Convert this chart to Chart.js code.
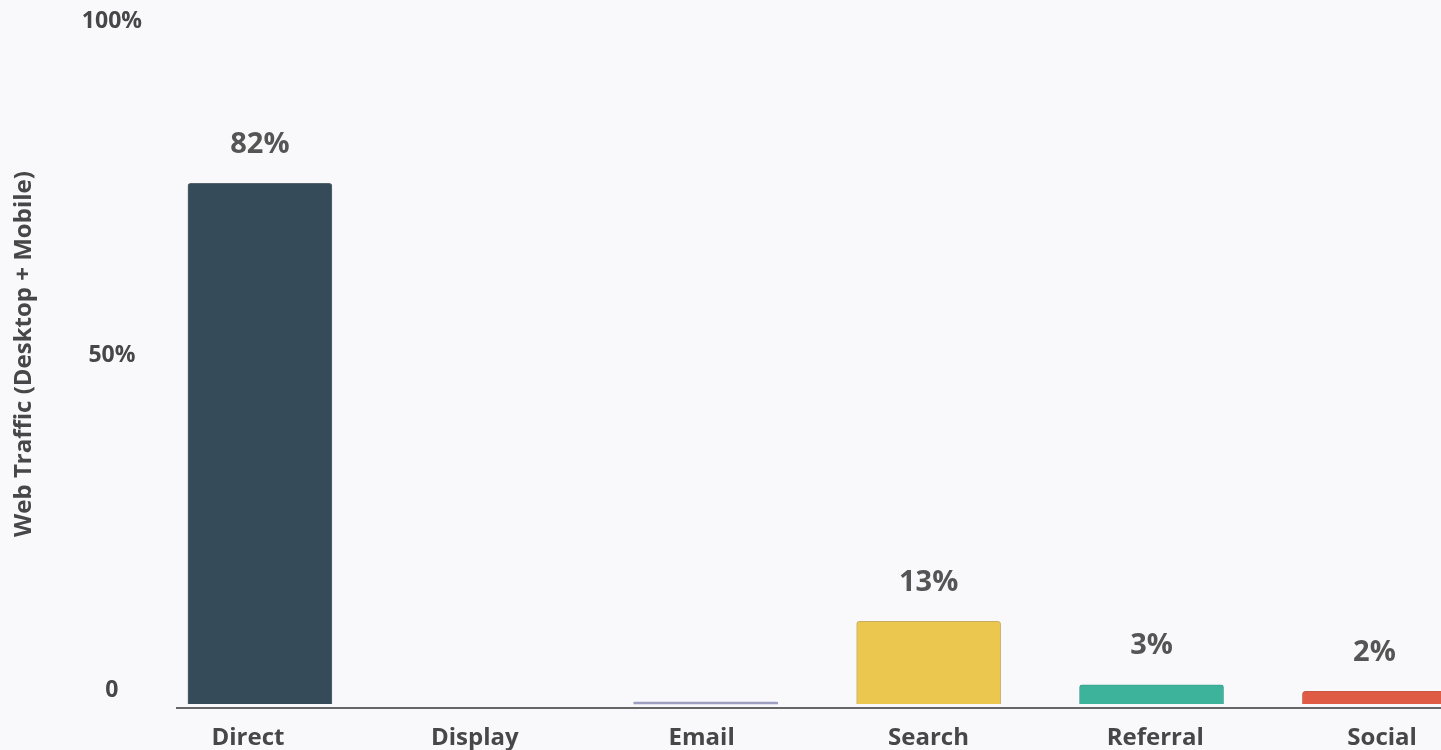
<!DOCTYPE html>
<html>
<head>
<meta charset="utf-8">
<title>Web Traffic by Channel</title>
<script src="https://cdn.jsdelivr.net/npm/chart.js@4.4.1/dist/chart.umd.min.js"></script>
<style>
  html, body { margin: 0; padding: 0; background: #f9f9fb; overflow: hidden; }
  #wrap { width: 1520px; height: 750px; }
</style>
</head>
<body>
<div id="wrap"><canvas id="traffic" width="1520" height="750"></canvas></div>
<script>
const channels = ['Direct', 'Display', 'Email', 'Search', 'Referral', 'Social'];
const shares = [82, 0, 0.3, 13, 3, 2];
const barColors = ['#354b5a', 'rgba(0,0,0,0)', '#9e9ec0', '#ecc74f', '#3eb39c', '#e05b43'];
const barEdges = ['#56636d', 'rgba(0,0,0,0)', '#9e9ec0', '#c9ad62', '#3aa28d', '#c9563f'];
const shareTicks = [0, 50, 100];

const TEXT = '#474747';
const FONT = "'Open Sans', sans-serif";

Chart.defaults.font.family = FONT;

// percentage printed above each bar (near-empty channels get none)
const valueLabels = {
  id: 'valueLabels',
  afterDatasetsDraw(chart) {
    const ctx = chart.ctx;
    const meta = chart.getDatasetMeta(0);
    ctx.save();
    ctx.font = `bold 29px ${FONT}`;
    ctx.fillStyle = '#555';
    ctx.textAlign = 'center';
    ctx.textBaseline = 'middle';
    meta.data.forEach((bar, i) => {
      if (shares[i] < 1) return;
      ctx.fillText(shares[i] + '%', bar.x, bar.y - 39);
    });
    ctx.restore();
  }
};

new Chart(document.getElementById('traffic'), {
  type: 'bar',
  data: {
    datasets: [{
      data: shares.map((v, i) => ({ x: i, y: v })),
      backgroundColor: barColors,
      borderColor: barEdges,
      borderWidth: [1, 0, 0, 1, 1, 1],
      borderRadius: 3,
      barThickness: 144,
      xAxisID: 'x',
      yAxisID: 'y'
    }]
  },
  options: {
    responsive: false,
    animation: false,
    events: [],
    layout: { padding: 0 },
    plugins: { legend: { display: false }, tooltip: { enabled: false } },
    scales: {
      // bar placement (hidden)
      x: { type: 'linear', display: false, offset: false, min: -0.372, max: 5.653 },
      y: { type: 'linear', display: false, min: -0.63, max: 110.87 },
      // channel names along the bottom
      xl: {
        type: 'linear', position: 'bottom', offset: false, min: -0.313, max: 5.608,
        afterBuildTicks: s => { s.ticks = channels.map((c, i) => ({ value: i })); },
        afterFit: s => { s.height = 42; s.paddingLeft = 0; s.paddingRight = 0; },
        grid: { display: false, drawTicks: false, offset: false },
        border: { display: true, color: '#666', width: 2 },
        ticks: {
          padding: 16, color: TEXT, maxRotation: 0, autoSkip: false,
          font: { size: 24, weight: 'bold' },
          callback: v => channels[v]
        }
      },
      // share ticks and axis title
      yt: {
        type: 'linear', position: 'left', min: -2.692, max: 103.21,
        afterBuildTicks: s => { s.ticks = shareTicks.map(v => ({ value: v })); },
        afterFit: s => { s.width = 177; s.paddingTop = 0; s.paddingBottom = 0; },
        grid: { display: false, drawTicks: false },
        border: { display: false },
        title: {
          display: true, text: 'Web Traffic (Desktop + Mobile)', color: TEXT,
          font: { size: 24, weight: 'bold' }, padding: { top: 10, bottom: 0 }
        },
        ticks: {
          padding: 35, crossAlign: 'center', color: TEXT,
          font: { size: 23, weight: 'bold' },
          callback: v => v === 0 ? '0' : v + '%'
        }
      }
    }
  },
  plugins: [valueLabels]
});
</script>
</body>
</html>
